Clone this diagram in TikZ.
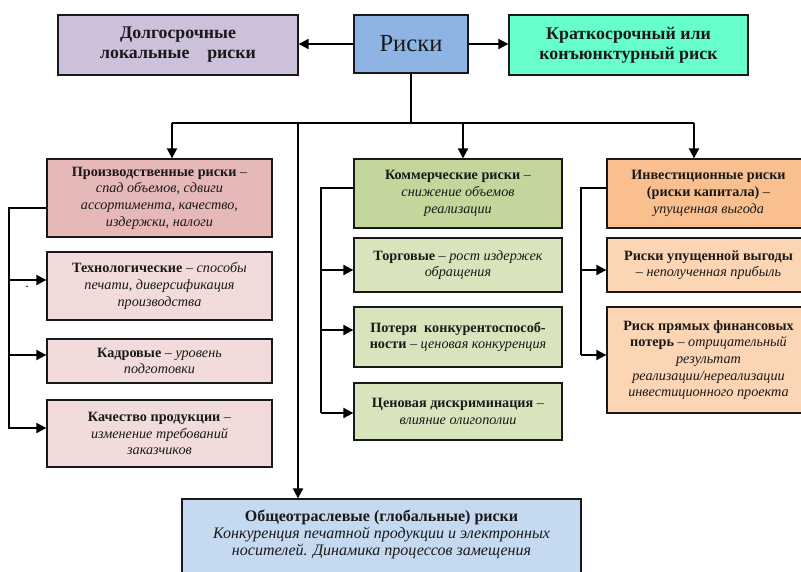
\documentclass[tikz,border=0pt]{standalone}
\usepackage{fontspec}
\setmainfont{Liberation Serif}
\usetikzlibrary{arrows.meta}
\definecolor{cDl}{RGB}{204,192,218}
\definecolor{cRisk}{RGB}{141,180,226}
\definecolor{cKr}{RGB}{102,255,204}
\definecolor{cPr}{RGB}{230,184,183}
\definecolor{cPrS}{RGB}{242,220,219}
\definecolor{cKom}{RGB}{195,214,155}
\definecolor{cKomS}{RGB}{215,228,188}
\definecolor{cInv}{RGB}{250,191,143}
\definecolor{cInvS}{RGB}{252,213,180}
\definecolor{cBot}{RGB}{197,217,241}
\definecolor{txt}{RGB}{25,25,25}
\tikzset{
  box/.style={draw=black!90, line width=1.3pt, align=center, inner sep=0pt, text=txt,
    font=\fontsize{14.2}{16.7}\selectfont},
  topbox/.style={box, font=\fontsize{17.8}{20}\selectfont},
  ln/.style={line width=1.9pt, black},
  arr/.style={ln, -{Triangle[length=10pt,width=10pt]}},
}
\begin{document}
\begin{tikzpicture}[x=1pt,y=-1pt]
\useasboundingbox (0,0) rectangle (801,571);
% top row
\node[topbox, fill=cDl, minimum width=240pt, minimum height=60pt] (dl) at (178,45)
  {\textbf{Долгосрочные}\\\textbf{локальные\quad риски}};
\node[box, fill=cRisk, minimum width=114pt, minimum height=58pt, font=\fontsize{24.6}{27}\selectfont] (risk) at (411,44) {Риски};
\node[topbox, fill=cKr, minimum width=239pt, minimum height=60pt] (kr) at (628.5,45)
  {\textbf{Краткосрочный или}\\\textbf{конъюнктурный риск}};
% left column
\node[box, fill=cPr, minimum width=225pt, minimum height=78pt] (pr) at (159.5,198)
  {\textbf{Производственные риски} –\\\textit{спад объемов, сдвиги}\\\textit{ассортимента, качество,}\\\textit{издержки, налоги}};
\node[box, fill=cPrS, minimum width=225pt, minimum height=68pt] (tech) at (159.5,286)
  {\textbf{Технологические} – \textit{способы}\\\textit{печати, диверсификация}\\\textit{производства}};
\node[box, fill=cPrS, minimum width=225pt, minimum height=44pt] (kad) at (159.5,361)
  {\textbf{Кадровые} – \textit{уровень}\\\textit{подготовки}};
\node[box, fill=cPrS, minimum width=225pt, minimum height=67pt] (kach) at (159.5,433.5)
  {\textbf{Качество продукции} –\\\textit{изменение требований}\\\textit{заказчиков}};
% middle column
\node[box, fill=cKom, minimum width=208pt, minimum height=69pt] (kom) at (458,193.5)
  {\textbf{Коммерческие риски} –\\\textit{снижение объемов}\\\textit{реализации}};
\node[box, fill=cKomS, minimum width=208pt, minimum height=54pt] (torg) at (458,265)
  {\textbf{Торговые} – \textit{рост издержек}\\\textit{обращения}};
\node[box, fill=cKomS, minimum width=208pt, minimum height=60pt] (pot) at (458,337)
  {\textbf{Потеря\ \ конкурентоспособ-}\\\textbf{ности} – \textit{ценовая конкуренция}};
\node[box, fill=cKomS, minimum width=208pt, minimum height=57pt] (cen) at (458,411.5)
  {\textbf{Ценовая дискриминация} –\\\textit{влияние олигополии}};
% right column
\node[box, fill=cInv, minimum width=203pt, minimum height=69pt] (inv) at (708.5,193.5)
  {\textbf{Инвестиционные риски}\\\textbf{(риски капитала)} –\\\textit{упущенная выгода}};
\node[box, fill=cInvS, minimum width=203pt, minimum height=54pt] (upu) at (708.5,265)
  {\textbf{Риски упущенной выгоды}\\– \textit{неполученная прибыль}};
\node[box, fill=cInvS, minimum width=203pt, minimum height=106pt] (pryam) at (708.5,360)
  {\textbf{Риск прямых финансовых}\\\textbf{потерь} – \textit{отрицательный}\\\textit{результат}\\\textit{реализации/нереализации}\\\textit{инвестиционного проекта}};
% bottom
\node[box, fill=cBot, minimum width=399pt, minimum height=92pt] (bot) at (381.5,545) {};
\node[box, draw=none, anchor=north, font=\fontsize{16}{17}\selectfont] (bottxt) at (381.5,509)
  {\textbf{Общеотраслевые (глобальные) риски}\\\textit{Конкуренция печатной продукции и электронных}\\\textit{носителей. Динамика процессов замещения}};
\node[font=\fontsize{14}{14}\selectfont, inner sep=0pt] (dot) at (27,287) {.};
% connectors top
\draw[arr] (risk.west) -- (risk.west -| dl.east);
\draw[arr] (risk.east) -- (risk.east -| kr.west);
\coordinate (top) at (411,123);
\coordinate (b1) at (172,123);
\coordinate (b2) at (298,123);
\coordinate (b3) at (463,123);
\coordinate (b4) at (694,123);
\draw[ln] (risk.south) -- (top);
\draw[ln] (b1) -- (b4);
\draw[arr] (b1) -- (b1 |- pr.north);
\draw[arr] (b2) -- (b2 |- bot.north);
\draw[arr] (b3) -- (b3 |- kom.north);
\draw[arr] (b4) -- (b4 |- inv.north);
% left feeder
\draw[ln] ([yshift=-10pt]pr.west) -- ++(-37,0) -- ++(0,220.5);
\draw[arr] ([xshift=-37pt,yshift=6pt]tech.west) -- ([yshift=6pt]tech.west);
\draw[arr] ([xshift=-37pt,yshift=6pt]kad.west) -- ([yshift=6pt]kad.west);
\draw[arr] ([xshift=-37pt,yshift=5.5pt]kach.west) -- ([yshift=5.5pt]kach.west);
% middle feeder
\draw[ln] ([yshift=5.5pt]kom.west) -- ++(-32,0) -- ++(0,225);
\draw[arr] ([xshift=-32pt,yshift=-5pt]torg.west) -- ([yshift=-5pt]torg.west);
\draw[arr] ([xshift=-32pt,yshift=7pt]pot.west) -- ([yshift=7pt]pot.west);
\draw[arr] ([xshift=-32pt,yshift=-1.5pt]cen.west) -- ([yshift=-1.5pt]cen.west);
% right feeder
\draw[ln] ([yshift=5.5pt]inv.west) -- ++(-25,0) -- ++(0,167);
\draw[arr] ([xshift=-25pt,yshift=-5pt]upu.west) -- ([yshift=-5pt]upu.west);
\draw[arr] ([xshift=-25pt,yshift=5pt]pryam.west) -- ([yshift=5pt]pryam.west);
\end{tikzpicture}
\end{document}
